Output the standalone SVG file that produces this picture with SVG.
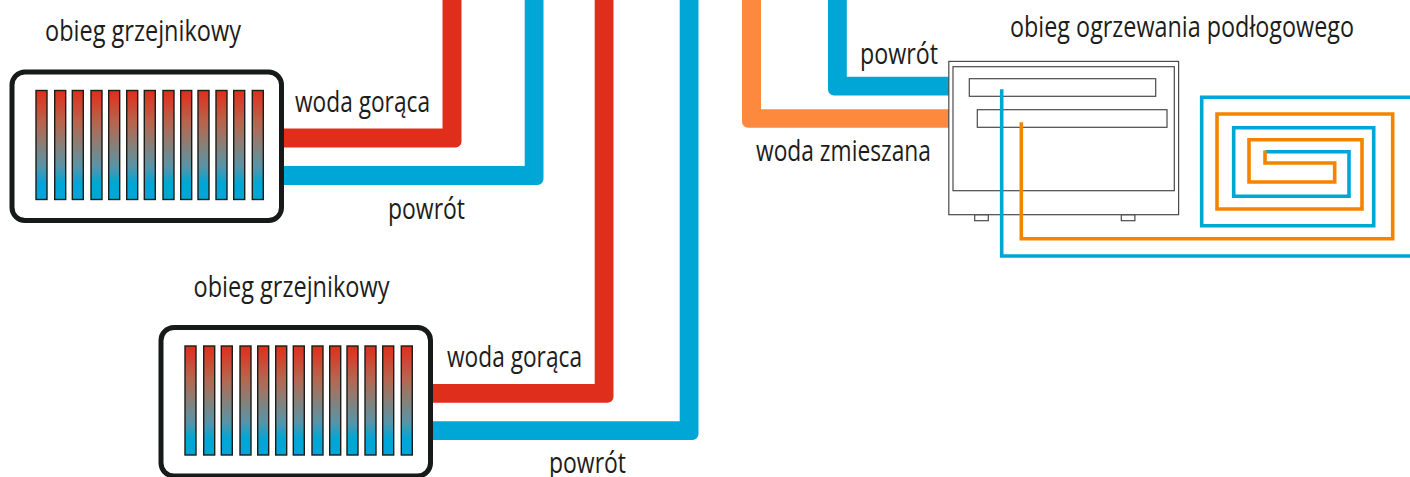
<svg xmlns="http://www.w3.org/2000/svg" xmlns:xlink="http://www.w3.org/1999/xlink" width="1410" height="477" viewBox="0 0 1410 477">
<style>
text{font-family:"Open Sans","Noto Sans","Liberation Sans",sans-serif;font-size:29px;fill:#1d1d1b}
.coil{fill:none;stroke-width:3.6;stroke-linejoin:miter}
.red{fill:#e02e1c}.blue{fill:#00a6d6}.mix{fill:#fd893e}
.cb{stroke:#00a6d6}.co{stroke:#f58300}
.shell{fill:#fff;stroke:#161a18;stroke-width:5}
.bar{fill:url(#g);stroke:#1c1c1a;stroke-width:1.4}
.u{fill:#fff;stroke:#4a4a4a;stroke-width:1.2}
</style>
<defs>
<linearGradient id="g" x1="0" y1="0" x2="0" y2="1">
<stop offset="0" stop-color="#e22d1a"/><stop offset="0.3" stop-color="#b6664f"/><stop offset="0.5" stop-color="#888078"/><stop offset="0.7" stop-color="#5894a8"/><stop offset="0.85" stop-color="#00a6d6"/><stop offset="1" stop-color="#00a6d6"/>
</linearGradient>
<g id="bars">
<rect class="bar" x="36" y="90.500" width="11" height="109"/><rect class="bar" x="54.700" y="90.500" width="11" height="109"/><rect class="bar" x="72.300" y="90.500" width="11" height="109"/><rect class="bar" x="91" y="90.500" width="11" height="109"/><rect class="bar" x="108.700" y="90.500" width="11" height="109"/><rect class="bar" x="126.700" y="90.500" width="11" height="109"/><rect class="bar" x="144.300" y="90.500" width="11" height="109"/><rect class="bar" x="163" y="90.500" width="11" height="109"/><rect class="bar" x="180.700" y="90.500" width="11" height="109"/><rect class="bar" x="198" y="90.500" width="11" height="109"/><rect class="bar" x="216" y="90.500" width="11" height="109"/><rect class="bar" x="233.700" y="90.500" width="11" height="109"/><rect class="bar" x="252.300" y="90.500" width="11" height="109"/>
</g>
</defs>
<g id="connectors">
<path class="red" d="M280 128.500H442.500V0H461.500V141.500a6 6 0 0 1-6 6H280Z"/>
<path class="blue" d="M280 166H524.700V0H543.500V179a6 6 0 0 1-6 6H280Z"/>
<path class="red" d="M430 384H594.700V0H613.500V396.700a6 6 0 0 1-6 6H430Z"/>
<path class="blue" d="M430 421.300H679.700V0H698.500V434a6 6 0 0 1-6 6H430Z"/>
<path class="mix" d="M949 109.300H761V0H742V121.700a6 6 0 0 0 6 6H949Z"/>
<path class="blue" d="M949 76.800H846.800V0H828V89.500a6 6 0 0 0 6 6H949Z"/>
</g>
<g id="radiator1">
<rect class="shell" x="12" y="72" width="269.500" height="148.500" rx="13"/>
<use xlink:href="#bars" href="#bars"/>
</g>
<g id="radiator2">
<rect class="shell" x="161" y="327.500" width="269.500" height="148.500" rx="13"/>
<use xlink:href="#bars" href="#bars" transform="translate(149 255.500)"/>
</g>
<g id="unit">
<rect class="u" x="974.700" y="214.700" width="13.600" height="6"/>
<rect class="u" x="1121.300" y="214.700" width="13.600" height="6"/>
<rect class="u" x="948.800" y="61.400" width="229.800" height="153.300"/>
<rect class="u" x="953" y="66.700" width="221.300" height="124"/>
<rect class="u" x="969.300" y="78.700" width="186.400" height="17.600"/>
<rect class="u" x="977.300" y="109.700" width="189.700" height="17.600"/>
</g>
<g id="coil">
<path class="coil cb" d="M1001.700 89.300V256H1410M1410 97.300H1201.700V225.700H1373.700V127.700H1233.700V196.300H1349V151.700H1265"/>
<path class="coil co" d="M1021.300 122.300V238.700H1392.700V114H1217V209H1362V139.700H1249V182H1334.700V163H1265V150.500"/>
</g>
<g id="labels">
<text x="45" y="41" textLength="196" lengthAdjust="spacingAndGlyphs">obieg grzejnikowy</text>
<text x="295" y="111.500" textLength="135" lengthAdjust="spacingAndGlyphs">woda gorąca</text>
<text x="388" y="219" textLength="77" lengthAdjust="spacingAndGlyphs">powrót</text>
<text x="193.500" y="297" textLength="196" lengthAdjust="spacingAndGlyphs">obieg grzejnikowy</text>
<text x="447" y="367.300" textLength="135" lengthAdjust="spacingAndGlyphs">woda gorąca</text>
<text x="549" y="472.700" textLength="77" lengthAdjust="spacingAndGlyphs">powrót</text>
<text x="860" y="63.700" textLength="78" lengthAdjust="spacingAndGlyphs">powrót</text>
<text x="756" y="160.700" textLength="175" lengthAdjust="spacingAndGlyphs">woda zmieszana</text>
<text x="1010" y="37.300" textLength="344" lengthAdjust="spacingAndGlyphs">obieg ogrzewania podłogowego</text>
</g>
</svg>
